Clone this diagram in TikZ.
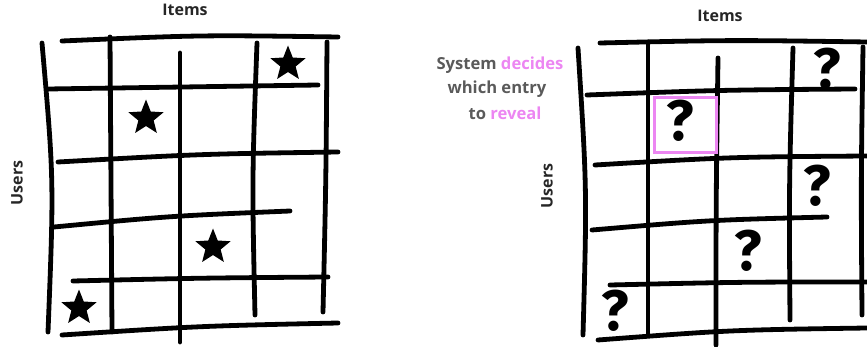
\documentclass[tikz,border=0pt]{standalone}
\usepackage{fontspec}
\setmainfont{Open Sans}
\newfontfamily\qfont{Fira Sans}
\usetikzlibrary{shapes.geometric}
\definecolor{pinkv}{HTML}{EC86F2}
\definecolor{txtgray}{HTML}{5A5A5A}
\definecolor{labdark}{HTML}{262626}
\tikzset{
  gl/.style={line width=4.8pt, line cap=round, black},
  starnode/.style={star, star points=5, star point ratio=2.3, minimum size=37pt, inner sep=0pt, fill=black},
  qnode/.style={font=\qfont\bfseries\fontsize{57}{57}\selectfont, inner sep=0pt, text=black},
  axlab/.style={font=\bfseries\fontsize{16}{16}\selectfont, text=labdark, inner sep=0pt},
  sysl/.style={font=\bfseries\fontsize{16.6}{16.6}\selectfont, text=txtgray, inner sep=0pt}
}
\begin{document}
\begin{tikzpicture}[x=1pt,y=-1pt]
\useasboundingbox (0,0) rectangle (867,347);
\clip (0,0) rectangle (867,347);
% ---------- left grid ----------
\draw[gl] (62,41) .. controls (200,35) .. (338,37);
\draw[gl] (48,89) .. controls (183,87) .. (318,85);
\draw[gl] (58,162) .. controls (200,154) .. (338,152);
\draw[gl] (54,227) .. controls (170,216) .. (290,211);
\draw[gl] (73,281) .. controls (200,278) .. (328,277);
\draw[gl] (62,335) .. controls (200,326) .. (338,323);
\draw[gl] (42,43) .. controls (54,180) .. (48,332);
\draw[gl] (110,37) .. controls (111,185) .. (112,332);
\draw[gl] (180,53) .. controls (180,200) .. (180,342);
\draw[gl] (257,43) .. controls (252,180) .. (255,315);
\draw[gl] (327,42) .. controls (326,180) .. (323,312);
\node[starnode] (s1) at (288,64) {};
\node[starnode] (s2) at (146,118) {};
\node[starnode] (s3) at (213,247) {};
\node[starnode] (s4) at (79,308) {};
\node[axlab] (itemsL) at (185,10) {Items};
\node[axlab, rotate=90] (usersL) at (17,183) {Users};
% ---------- right grid ----------
\draw[gl] (600,43) .. controls (730,40) .. (867,42);
\draw[gl] (587,95) .. controls (720,90) .. (855,89);
\draw[gl] (595,165) .. controls (730,157) .. (867,156);
\draw[gl] (592,230) .. controls (710,220) .. (827,217);
\draw[gl] (610,285) .. controls (740,282) .. (867,282);
\draw[gl] (598,340) .. controls (730,330) .. (867,328);
\draw[gl] (578,48) .. controls (587,190) .. (583,335);
\draw[gl] (648,42) .. controls (648,190) .. (648,333);
\draw[gl] (718,58) .. controls (716,200) .. (716,345);
\draw[gl] (793,48) .. controls (789,185) .. (790,320);
\draw[gl] (863,47) .. controls (861,180) .. (862,315);
\node[draw=pinkv, line width=3pt, fill=white, minimum width=62pt, minimum height=55pt, inner sep=0pt] (box) at (685,125.5) {};
\node[qnode] (q1) at (827,69) {?};
\node[qnode] (q2) at (680,121) {?};
\node[qnode] (q3) at (817,186) {?};
\node[qnode] (q4) at (748,251) {?};
\node[qnode] (q5) at (615,311) {?};
\node[axlab] (itemsR) at (720,16) {Items};
\node[axlab, rotate=90] (usersR) at (547,186) {Users};
\node[sysl] (t1) at (500,65) {System \textcolor{pinkv}{decides}};
\node[sysl] (t2) at (497,89) {which entry};
\node[sysl] (t3) at (505,113) {to \textcolor{pinkv}{reveal}};
\end{tikzpicture}
\end{document}
